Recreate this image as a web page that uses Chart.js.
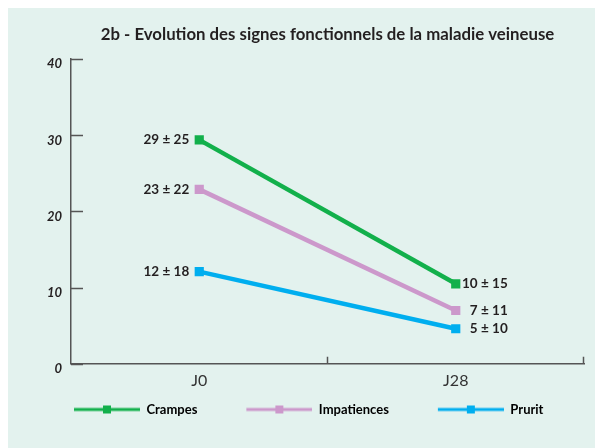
<!DOCTYPE html>
<html lang="fr">
<head>
<meta charset="utf-8">
<script src="https://cdn.jsdelivr.net/npm/chart.js@4/dist/chart.umd.min.js"></script>
<style>
    html, body { margin: 0; padding: 0; background: #ffffff; }
    #cadre {
        position: absolute; left: 8px; top: 8px;
        width: 587px; height: 440px;
        background: #e3f2ee;
    }
</style>
</head>
<body>
<div id="cadre"><canvas id="graphique" width="587" height="440"></canvas></div>
<script>
// ---------------------------------------------------------------------------
// DONNÉES
// ---------------------------------------------------------------------------

const categories   = ['J0', 'J28'];
const series       = ['Crampes', 'Impatiences', 'Prurit'];
const crampes      = [29.4, 10.5];
const impatiences  = [22.9, 7.0];
const prurit       = [12.1, 4.6];
const etiqCrampes     = ['29 ± 25', '10 ± 15'];
const etiqImpatiences = ['23 ± 22', '7 ± 11'];
const etiqPrurit      = ['12 ± 18', '5 ± 10'];
const graduationsY = [0, 10, 20, 30, 40];

const COULEURS = ['#12b04b', '#cc98cb', '#00aeef'];
const POLICE   = 'Lato, "Open Sans", sans-serif';

// ---------------------------------------------------------------------------
// LÉGENDE — petit trait avec carré (marge transparente à gauche = écart entre items)
// ---------------------------------------------------------------------------

const MARGE_LEG = 43;

function symboleLegende(couleur) {
    const c = document.createElement('canvas');
    c.width = MARGE_LEG + 66; c.height = 10;
    const ctx = c.getContext('2d');
    ctx.strokeStyle = couleur;
    ctx.lineWidth = 3;
    ctx.beginPath();
    ctx.moveTo(MARGE_LEG, 5); ctx.lineTo(MARGE_LEG + 66, 5);
    ctx.stroke();
    ctx.fillStyle = couleur;
    ctx.fillRect(MARGE_LEG + 29, 1, 8, 8);
    return c;
}

// ---------------------------------------------------------------------------
// PLUGINS
// ---------------------------------------------------------------------------

const pluginGraduations = {
    id: 'graduations',
    afterDraw(chart) {
        const { ctx, scales: { x, y } } = chart;
        ctx.save();
        ctx.strokeStyle = '#555';
        ctx.lineWidth = 1.5;
        ctx.beginPath();
        graduationsY.forEach(v => {
            const py = Math.round(y.getPixelForValue(v)) + 0.5;
            ctx.moveTo(x.left, py);
            ctx.lineTo(x.left + 12, py);
        });
        const pas = (x.right - x.left) / categories.length;
        for (let i = 1; i <= categories.length; i++) {
            const px = Math.round(x.left + i * pas) - 0.5;
            ctx.moveTo(px, y.bottom);
            ctx.lineTo(px, y.bottom - 7);
        }
        ctx.stroke();
        ctx.restore();
    },
};

const pluginEtiquettes = {
    id: 'etiquettes',
    afterDatasetsDraw(chart) {
        const { ctx } = chart;
        const etiquettes = [etiqCrampes, etiqImpatiences, etiqPrurit];
        ctx.save();
        ctx.font = 'bold 13.5px ' + POLICE;
        ctx.fillStyle = '#231f20';
        ctx.textBaseline = 'middle';
        ctx.textAlign = 'right';
        chart.data.datasets.forEach((ds, i) => {
            const pts = chart.getDatasetMeta(i).data;
            ctx.fillText(etiquettes[i][0], pts[0].x - 10, pts[0].y);
            ctx.fillText(etiquettes[i][1], pts[1].x + 52, pts[1].y);
        });
        ctx.restore();
    },
};

// ---------------------------------------------------------------------------
// GRAPHIQUE
// ---------------------------------------------------------------------------

const valeurs = [crampes, impatiences, prurit];

new Chart(document.getElementById('graphique'), {
    type: 'line',
    data: {
        labels: categories,
        datasets: series.map((nom, i) => ({
            label:            nom,
            data:             valeurs[i],
            borderColor:      COULEURS[i],
            backgroundColor:  COULEURS[i],
            borderWidth:      4.5,
            pointStyle:       'rect',
            pointRadius:      6.5,
            pointBorderWidth: 0,
            pointHoverRadius: 6.5,
        })),
    },
    plugins: [pluginGraduations, pluginEtiquettes],
    options: {
        responsive: false,
        animation:  false,
        layout: { padding: { left: 17, right: 11, top: 13, bottom: 22 } },
        plugins: {
            tooltip: { enabled: false },
            title: {
                display:  true,
                text:     '2b - Evolution des signes fonctionnels de la maladie veineuse',
                fullSize: false,
                color:    '#231f20',
                font:     { family: POLICE, size: 16.8, weight: 'bold' },
                padding:  { top: 4, bottom: 14 },
            },
            legend: {
                position: 'bottom',
                align:    'start',
                labels: {
                    usePointStyle:   true,
                    pointStyleWidth: MARGE_LEG + 66,
                    color:           '#231f20',
                    padding:         6,
                    font:            { family: POLICE, size: 13, weight: 'bold' },
                    generateLabels: chart => chart.data.datasets.map((ds, i) => ({
                        text:         ds.label,
                        pointStyle:   symboleLegende(COULEURS[i]),
                        fillStyle:    COULEURS[i],
                        strokeStyle:  COULEURS[i],
                        lineWidth:    0,
                        datasetIndex: i,
                    })),
                },
            },
        },
        scales: {
            x: {
                offset: true,
                grid:   { display: false, offset: true, drawTicks: false },
                border: { display: true, color: '#555', width: 1.5 },
                ticks:  { color: '#333', padding: 7, font: { family: POLICE, size: 16 } },
            },
            y: {
                min: 0,
                max: 40,
                afterBuildTicks: axe => { axe.ticks = graduationsY.map(v => ({ value: v })); },
                afterFit: axe => { axe.width = 46; },
                grid:   { display: false, drawTicks: false },
                border: { display: true, color: '#555', width: 1.5 },
                ticks:  {
                    color:       '#231f20',
                    padding:     9,
                    labelOffset: 5,
                    font:        { family: POLICE, size: 13, weight: 'bold', style: 'italic' },
                },
            },
        },
    },
});
</script>
</body>
</html>
